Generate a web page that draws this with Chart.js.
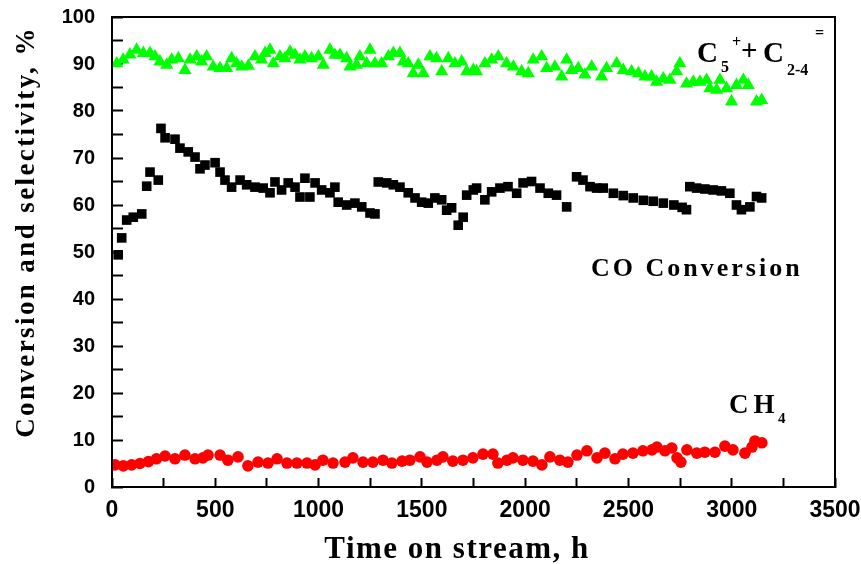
<!DOCTYPE html>
<html>
<head>
<meta charset="utf-8">
<script src="https://cdn.jsdelivr.net/npm/chart.js@4.4.1/dist/chart.umd.min.js"></script>
<style>
html,body{margin:0;padding:0;background:#fff;}
#wrap{width:861px;height:564px;}
</style>
</head>
<body>
<div id="wrap"><canvas id="c" width="861" height="564"></canvas></div>
<script>
// ---- data ----
const xTicks = [0, 500, 1000, 1500, 2000, 2500, 3000, 3500];
const yTicks = [0, 10, 20, 30, 40, 50, 60, 70, 80, 90, 100];

const coTime  = [30,47,71,103,144,168,184,224,237,257,305,329,369,402,426,450,499,523,547,579,620,652,692,732,765,789,821,853,886,910,934,958,983,1015,1055,1079,1095,1136,1176,1209,1249,1273,1289,1330,1362,1394,1434,1467,1499,1531,1563,1596,1620,1644,1676,1700,1717,1749,1765,1805,1838,1878,1917,1959,1990,2031,2072,2112,2152,2201,2249,2280,2314,2346,2378,2427,2475,2523,2572,2620,2669,2720,2760,2781,2797,2830,2870,2910,2950,2991,3023,3047,3088,3120,3145];
const coValue = [49.4,53,56.8,57.4,58.1,64,67,65.3,76.3,74.3,74,72.1,71.3,70.2,67.7,68.5,69,67,65.3,63.8,65.3,64.3,63.8,63.6,62.6,64.9,63.2,64.7,63.8,61.7,65.7,61.7,64.7,63.2,62.6,63.8,60.6,60,60.4,59.6,58.3,58.1,64.9,64.7,64.3,63.8,62.6,61.5,60.6,60.4,61.5,61.1,58.9,59.4,55.7,57.4,62.1,63.2,63.6,61.1,62.8,63.6,63.9,62.5,64.7,65,63.6,62.5,62.1,59.6,66,65.3,63.9,63.6,63.6,62.5,62,61.5,61,60.8,60.4,60,59.5,59,63.9,63.6,63.4,63.2,63,62.5,60,59,59.6,61.8,61.5];

const c5Time  = [23,54,87,119,152,184,208,232,265,289,321,353,378,410,434,458,490,523,555,579,603,628,660,692,724,741,765,781,813,837,862,886,910,934,966,999,1023,1055,1079,1104,1136,1152,1184,1200,1233,1249,1273,1305,1338,1362,1394,1410,1434,1458,1483,1507,1539,1571,1596,1628,1660,1693,1717,1749,1765,1805,1838,1870,1910,1943,1983,2015,2039,2080,2104,2144,2177,2201,2225,2257,2289,2322,2370,2394,2443,2475,2515,2548,2580,2612,2636,2669,2701,2733,2749,2781,2814,2846,2878,2894,2927,2943,2975,2999,3023,3056,3080,3120,3145];
const c5Value = [90.1,90.9,92,93,92.3,92.3,91.6,90.5,89.8,90.9,91.2,88.7,90.9,91.6,90.5,91.6,89.4,89.1,89.1,91.2,90.1,89.4,89.6,91.6,90.9,92.3,93,90.1,91.6,91.2,92.6,91.9,90.9,91.6,91.2,91.6,89.8,93,91.9,91.9,91.2,89.4,89.8,91.6,90.1,93,90.1,90.1,91.6,92.3,92.3,90.5,90.1,88,89.8,88,91.6,91.2,88.4,91.2,90.1,90.5,88.4,88.7,88.4,90.1,90.9,91.6,90.1,89.4,88.4,88,90.9,91.6,89.1,89.4,87.3,90.9,88.7,89.1,87.7,89.4,87.3,89.1,90.1,88.7,88.4,88,87.3,87.3,86.2,86.9,86.6,88.4,90.1,85.8,86.2,86.2,86.6,84.8,84.5,86.6,84.8,82,85.5,86.6,85.5,82,82.3];

const ch4Time  = [15,55,95,135,176,215,257,305,353,402,440,465,523,561,610,658,707,755,799,847,895,944,983,1021,1070,1128,1166,1215,1263,1312,1355,1404,1442,1491,1525,1573,1602,1650,1699,1747,1796,1844,1868,1912,1941,1989,2038,2081,2120,2168,2207,2251,2299,2348,2386,2435,2473,2522,2570,2614,2638,2677,2710,2735,2754,2783,2831,2870,2919,2967,3006,3064,3098,3112,3146];
const ch4Value = [4.7,4.5,4.7,5.0,5.4,6.0,6.6,6.0,6.8,6.0,6.2,6.8,6.8,5.7,6.4,4.5,5.3,5.1,6.0,5.1,5.1,5.1,4.7,5.7,5.1,5.3,6.2,5.3,5.3,5.7,5.1,5.5,5.7,6.4,5.3,5.7,6.4,5.5,5.7,6.2,7.0,7.0,5.1,5.7,6.2,5.7,5.5,4.7,6.4,5.7,5.3,6.8,7.7,6.2,7.2,6.0,7.0,7.2,7.7,7.9,8.5,7.7,8.3,6.2,5.3,7.9,7.2,7.4,7.4,8.7,7.9,7.2,8.5,9.8,9.4];

const xTitle = 'Time on stream, h';
const yTitle = 'Conversion and selectivity, %';

const toXY = (ts, vs) => ts.map((t, i) => ({x: t, y: vs[i]}));

const overlay = {
  id: 'overlay',
  afterDraw(chart) {
    const {ctx, chartArea: a} = chart;
    ctx.save();
    ctx.strokeStyle = '#000';
    ctx.lineWidth = 2;
    ctx.strokeRect(a.left, a.top, a.right - a.left, a.bottom - a.top);
    ctx.fillStyle = '#000';
    ctx.textBaseline = 'alphabetic';
    // x title
    ctx.font = 'bold 31px "Liberation Serif"';
    ctx.letterSpacing = '1.5px';
    ctx.textAlign = 'center';
    ctx.fillText(xTitle, 457, 558);
    // y title
    ctx.save();
    ctx.translate(34, 232);
    ctx.rotate(-Math.PI / 2);
    ctx.font = 'bold 27px "Liberation Serif"';
    ctx.letterSpacing = '2.4px';
    ctx.fillText(yTitle, 0, 0);
    ctx.restore();
    // annotations
    ctx.textAlign = 'left';
    const put = (txt, px, py, size, ls) => {
      ctx.font = 'bold ' + size + 'px "Liberation Serif"';
      ctx.letterSpacing = (ls || 0) + 'px';
      ctx.fillText(txt, px, py);
    };
    put('C', 697, 62, 29);
    put('5', 721, 72, 16);
    put('+', 732, 47, 16);
    put('+', 741, 60, 29);
    put('C', 763, 62, 29);
    put('2-4', 787, 75, 16);
    put('=', 815, 38, 16);
    put('CO Conversion', 591, 276, 26, 3);
    put('CH', 729, 413, 27, 5);
    put('4', 778, 423, 15);
    ctx.restore();
  }
};

new Chart(document.getElementById('c'), {
  type: 'scatter',
  data: {
    datasets: [
      {label: 'C5+ + C2-4=', data: toXY(c5Time, c5Value), pointStyle: 'triangle', radius: 7.6,
       backgroundColor: '#00ff00', borderColor: '#00ff00', borderWidth: 0},
      {label: 'CO Conversion', data: toXY(coTime, coValue), pointStyle: 'rect', radius: 6.8,
       backgroundColor: '#000000', borderColor: '#000000', borderWidth: 0},
      {label: 'CH4', data: toXY(ch4Time, ch4Value), pointStyle: 'circle', radius: 5.8,
       backgroundColor: '#ff0000', borderColor: '#ff0000', borderWidth: 0}
    ]
  },
  options: {
    responsive: false,
    animation: false,
    events: [],
    layout: {padding: {top: 17, right: 26, left: 0, bottom: 0}},
    plugins: {legend: {display: false}, tooltip: {enabled: false}},
    scales: {
      x: {
        type: 'linear', min: 0, max: 3500,
        afterFit(s) { s.height = 77; s.paddingLeft = 0; s.paddingRight = 0; s.paddingTop = 0; s.paddingBottom = 0; },
        afterBuildTicks(s) {
          const t = [];
          for (let v = 0; v <= 3500; v += 250) t.push({value: v});
          s.ticks = t;
        },
        grid: {drawOnChartArea: false, tickLength: -9, tickWidth: 2, tickColor: '#000'},
        border: {display: true, color: '#000', width: 2},
        ticks: {
          autoSkip: false, maxRotation: 0, padding: 19, color: '#000',
          font: {family: '"Liberation Sans"', weight: 'bold', size: 23},
          callback: (v) => xTicks.includes(v) ? String(v) : ''
        }
      },
      y: {
        type: 'linear', min: 0, max: 100,
        afterFit(s) { s.width = 112; s.paddingLeft = 0; s.paddingRight = 0; s.paddingTop = 0; s.paddingBottom = 0; },
        afterBuildTicks(s) {
          const t = [];
          for (let v = 0; v <= 100; v += 5) t.push({value: v});
          s.ticks = t;
        },
        grid: {drawOnChartArea: false, tickLength: -11, tickWidth: 2, tickColor: '#000'},
        border: {display: true, color: '#000', width: 2},
        ticks: {
          autoSkip: false, padding: 28, color: '#000',
          font: {family: '"Liberation Sans"', weight: 'bold', size: 20},
          callback: (v) => yTicks.includes(v) ? String(v) : ''
        }
      }
    }
  },
  plugins: [overlay]
});
</script>
</body>
</html>
